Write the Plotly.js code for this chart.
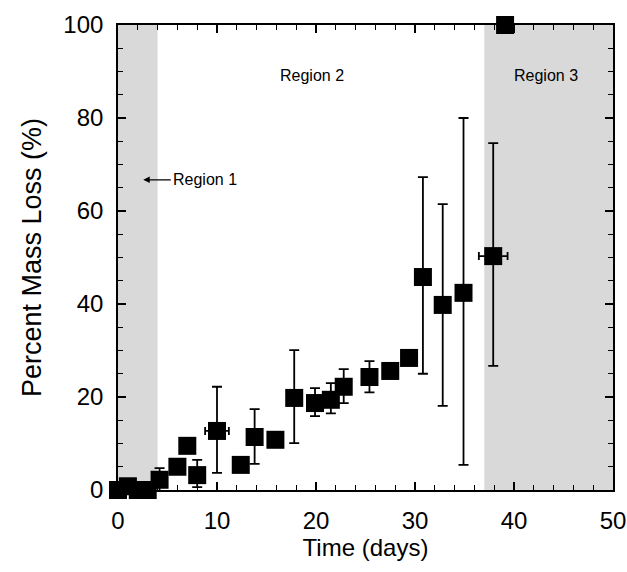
<!DOCTYPE html>
<html>
<head>
<meta charset="utf-8">
<script src="https://cdn.plot.ly/plotly-3.0.1.min.js"></script>
<style>html,body{margin:0;padding:0;background:#fff;}#chart{width:627px;height:572px;}</style>
</head>
<body>
<div id="chart"></div>
<script>
// Time (days)
const days = [0, 1, 2, 3, 4.2, 6.0, 7.0, 8.0, 10.0, 12.4, 13.8, 15.9, 17.8, 19.9, 21.5, 22.8, 25.4, 27.5, 29.4, 30.8, 32.8, 34.9, 37.9, 39.1];
// Percent mass loss (%)
const massLoss = [0, 0.8, 0, 0, 2.2, 5.0, 9.5, 3.2, 12.7, 5.4, 11.4, 10.8, 19.8, 18.7, 19.4, 22.2, 24.3, 25.6, 28.4, 45.8, 39.8, 42.4, 50.3, 100];
// error bars (upper / lower) in %
const errPlus  = [0, 0, 0, 0, 2.5, 0, 0, 3.3, 9.5, 0, 6.0, 0, 10.3, 3.2, 3.6, 3.8, 3.4, 1.5, 1.5, 21.5, 21.7, 37.6, 24.3, 0];
const errMinus = [0, 0, 0, 0, 2.5, 0, 0, 2.6, 9.0, 0, 5.8, 0, 9.7, 2.8, 2.9, 3.5, 3.3, 1.5, 1.5, 20.8, 21.7, 37.0, 23.6, 0];
// error bars in time (days)
const errDays  = [0, 0, 0, 0, 0, 0, 0, 0, 1.2, 0, 0, 0, 0, 0, 0, 0, 0, 0, 0, 0, 0, 0, 1.45, 0];

// shaded regions (days)
const region1 = [0, 4];
const region3 = [37, 50];
const regionLabels = ["Region 1", "Region 2", "Region 3"];

const font = "Arial, 'Liberation Sans', Helvetica, sans-serif";

const trace = {
  x: days, y: massLoss, type: 'scatter', mode: 'markers',
  cliponaxis: false,
  marker: {symbol: 'square', size: 18, color: '#000'},
  error_y: {type: 'data', symmetric: false, array: errPlus, arrayminus: errMinus, color: '#000', thickness: 1.8, width: 5},
  error_x: {type: 'data', array: errDays, color: '#000', thickness: 1.8, width: 4},
  showlegend: false
};

const axisCommon = {
  showgrid: false, zeroline: false, showline: true, linecolor: '#000', linewidth: 1.8,
  mirror: 'ticks', ticks: 'inside', ticklen: 8, tickwidth: 1.5, tickcolor: '#000',
  tickfont: {family: font, size: 24, color: '#000'}
};

const layout = {
  width: 627, height: 572,
  margin: {l: 118, r: 14, t: 25, b: 82},
  paper_bgcolor: '#fff', plot_bgcolor: '#fff',
  xaxis: Object.assign({}, axisCommon, {
    range: [0, 50], dtick: 10, ticklabelstandoff: 8,
    minor: {dtick: 2, ticks: 'inside', ticklen: 5, tickwidth: 1.2, tickcolor: '#000'},
    title: {text: 'Time (days)', font: {family: font, size: 24, color: '#000'}, standoff: 4}
  }),
  yaxis: Object.assign({}, axisCommon, {
    range: [0, 100], dtick: 20, ticklabelstandoff: 8,
    minor: {dtick: 5, ticks: 'inside', ticklen: 5, tickwidth: 1.2, tickcolor: '#000'},
    title: {text: 'Percent Mass Loss (%)', font: {family: font, size: 27, color: '#000'}, standoff: 14}
  }),
  shapes: [
    {type: 'rect', xref: 'x', yref: 'y', x0: region1[0], x1: region1[1], y0: 0, y1: 100, fillcolor: '#d9d9d9', line: {width: 0}, layer: 'below'},
    {type: 'rect', xref: 'x', yref: 'y', x0: region3[0], x1: region3[1], y0: 0, y1: 100, fillcolor: '#d9d9d9', line: {width: 0}, layer: 'below'}
  ],
  annotations: [
    {x: 2.55, y: 66.7, xref: 'x', yref: 'y', ax: 29, ay: 0, text: '', showarrow: true, arrowhead: 2, arrowsize: 1, arrowwidth: 1.3, arrowcolor: '#000'},
    {x: 5.4, y: 66.7, xref: 'x', yref: 'y', text: regionLabels[0], showarrow: false, xanchor: 'left', font: {family: font, size: 16, color: '#000'}},
    {x: 19.6, y: 89.2, xref: 'x', yref: 'y', text: regionLabels[1], showarrow: false, font: {family: font, size: 16, color: '#000'}},
    {x: 43.2, y: 89.2, xref: 'x', yref: 'y', text: regionLabels[2], showarrow: false, font: {family: font, size: 16, color: '#000'}}
  ]
};

Plotly.newPlot('chart', [trace], layout, {displayModeBar: false, staticPlot: true});
</script>
</body>
</html>
